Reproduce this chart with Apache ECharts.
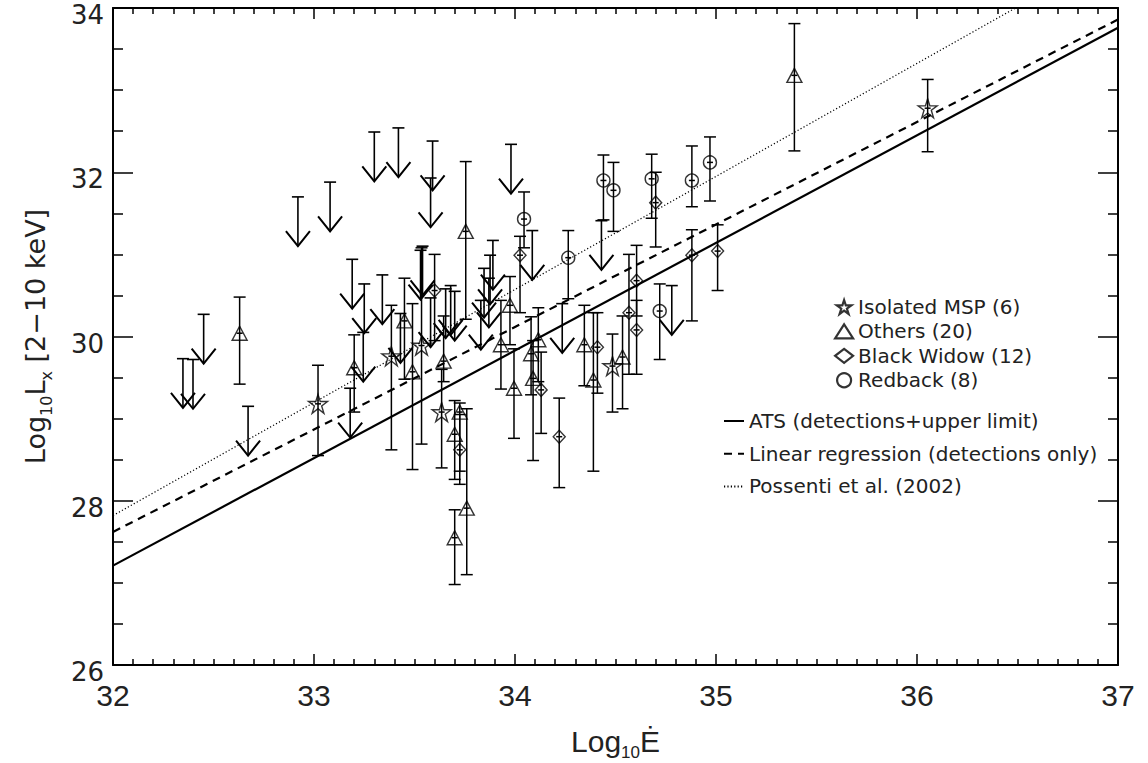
<!DOCTYPE html>
<html>
<head>
<meta charset="utf-8">
<script src="https://cdn.jsdelivr.net/npm/echarts@6/dist/echarts.min.js"></script>
<style>
html,body{margin:0;padding:0;background:#fff;}
#chart{width:1148px;height:763px;}
</style>
</head>
<body>
<div id="chart"></div>
<script>
// ---- data: [logEdot, logLx, lowerErr, upperErr]
var isolatedMSP = [
  [33.02, 29.18, 28.55, 29.65],
  [33.385, 29.76, 28.62, 30.38],
  [33.535, 29.89, 28.69, 31.08],
  [33.635, 29.08, 28.40, 29.60],
  [34.485, 29.64, 29.08, 30.03],
  [36.053, 32.78, 32.25, 33.13]
];
var others = [
  [32.63, 30.04, 29.42, 30.48],
  [33.20, 29.62, 29.08, 30.02],
  [33.45, 30.19, 29.48, 30.71],
  [33.49, 29.57, 28.38, 30.40],
  [33.645, 29.70, 29.45, 30.25],
  [33.70, 28.81, 28.26, 29.22],
  [33.70, 27.55, 26.98, 27.89],
  [33.725, 29.08, 28.36, 29.19],
  [33.76, 27.91, 27.10, 29.12],
  [33.755, 31.28, 30.21, 32.13],
  [33.93, 29.90, 29.36, 30.44],
  [33.975, 30.38, 29.90, 30.73],
  [33.995, 29.37, 28.76, 29.85],
  [34.08, 29.79, 29.29, 30.24],
  [34.09, 29.49, 28.49, 29.95],
  [34.116, 29.96, 29.45, 30.35],
  [34.345, 29.90, 29.40, 30.38],
  [34.39, 29.47, 28.36, 30.29],
  [34.535, 29.75, 29.12, 30.25],
  [35.39, 33.18, 32.26, 33.81]
];
var blackWidow = [
  [33.60, 30.56, 29.95, 31.00],
  [33.725, 28.62, 28.20, 29.05],
  [34.025, 30.99, 30.29, 31.22],
  [34.13, 29.35, 28.82, 29.81],
  [34.22, 28.78, 28.16, 29.25],
  [34.41, 29.87, 29.31, 30.29],
  [34.567, 30.29, 29.54, 31.00],
  [34.605, 30.08, 29.54, 30.44],
  [34.605, 30.68, 30.25, 31.11],
  [34.70, 31.63, 31.09, 32.00],
  [34.88, 30.99, 30.19, 31.30],
  [35.008, 31.04, 30.56, 31.36]
];
var redback = [
  [34.045, 31.43, 31.08, 31.76],
  [34.265, 30.96, 30.46, 31.29],
  [34.44, 31.90, 31.42, 32.21],
  [34.49, 31.78, 31.28, 32.12],
  [34.68, 31.92, 31.44, 32.22],
  [34.72, 30.31, 29.72, 30.64],
  [34.88, 31.90, 31.58, 32.32],
  [34.97, 32.12, 31.65, 32.43]
];
// upper limits: [logEdot, logLx upper limit]
var upperLimits = [
  [32.348, 29.73], [32.398, 29.72], [32.451, 30.27], [32.672, 29.15],
  [32.92, 31.70], [33.08, 31.88], [33.18, 29.37], [33.19, 30.94],
  [33.245, 30.05], [33.25, 30.64], [33.30, 32.49], [33.34, 30.75],
  [33.42, 32.54], [33.43, 30.28], [33.53, 31.05], [33.54, 31.10],
  [33.58, 31.93], [33.58, 30.47], [33.59, 32.38], [33.655, 30.58],
  [33.68, 30.62], [33.70, 30.55], [33.83, 30.44], [33.846, 30.83],
  [33.87, 30.71], [33.876, 30.99], [33.89, 31.17], [33.98, 32.34],
  [34.086, 31.29], [34.235, 30.40], [34.43, 31.41], [34.78, 30.62]
];
var arrowLength = 0.6; // dex
// fitted relations (end points)
var atsLine = [[32, 27.21], [37, 33.76]];
var regressionLine = [[32, 27.62], [37, 33.86]];
var possentiLine = [[32, 27.82], [36.49, 34.0]];
var xTicks = [32, 33, 34, 35, 36, 37];
var yTicks = [26, 28, 30, 32, 34];

var chart = echarts.init(document.getElementById('chart'), null, {renderer: 'svg'});
var starPath = 'path://M50,2 L61,36 L97,36 L68,57 L79,92 L50,70 L21,92 L32,57 L3,36 L39,36 Z';
var hollow = {color: 'rgba(255,255,255,0)', borderColor: '#000', borderWidth: 1.4};
var allDetections = isolatedMSP.concat(others, blackWidow, redback);

function errRender(params, api) {
  var x = api.value(0), y = api.value(1), lo = api.value(2), hi = api.value(3);
  var a = api.coord([x, lo]), b = api.coord([x, hi]), p = api.coord([x, y]);
  var st = {stroke: '#000', lineWidth: 1.5};
  var c = 6;
  return {type: 'group', children: [
    {type: 'line', shape: {x1: a[0], y1: a[1], x2: b[0], y2: b[1]}, style: st},
    {type: 'line', shape: {x1: a[0] - c, y1: a[1], x2: a[0] + c, y2: a[1]}, style: st},
    {type: 'line', shape: {x1: b[0] - c, y1: b[1], x2: b[0] + c, y2: b[1]}, style: st},
    {type: 'line', shape: {x1: p[0] - 3, y1: p[1], x2: p[0] + 3, y2: p[1]}, style: st}
  ]};
}
function ulRender(params, api) {
  var x = api.value(0), y = api.value(1);
  var t = api.coord([x, y]), b = api.coord([x, y - arrowLength]);
  var st = {stroke: '#000', lineWidth: 1.6};
  var st2 = {stroke: '#000', lineWidth: 2};
  return {type: 'group', children: [
    {type: 'line', shape: {x1: t[0], y1: t[1], x2: b[0], y2: b[1]}, style: st},
    {type: 'line', shape: {x1: t[0] - 6, y1: t[1], x2: t[0] + 6, y2: t[1]}, style: st},
    {type: 'polyline', shape: {points: [[b[0] - 12, b[1] - 15], [b[0], b[1]], [b[0] + 12, b[1] - 15]]}, style: Object.assign({fill: 'none'}, st2)}
  ]};
}

var axisCommon = {
  type: 'value',
  splitLine: {show: false},
  minorSplitLine: {show: false},
  axisLine: {show: true, onZero: false, lineStyle: {color: '#000', width: 2}}
};
var xFont = 'Liberation Sans, sans-serif';
var option = {
  animation: false,
  backgroundColor: '#fff',
  grid: {left: 113, right: 30, top: 8, bottom: 98, containLabel: false, outerBoundsMode: 'none'},
  xAxis: [
    Object.assign({}, axisCommon, {
      position: 'bottom', min: xTicks[0], max: xTicks[xTicks.length - 1], interval: 1,
      axisTick: {inside: true, length: 11, lineStyle: {color: '#000', width: 1.5}},
      minorTick: {show: true, splitNumber: 10, length: 6, lineStyle: {color: '#000', width: 1.5}},
      axisLabel: {margin: 15, fontSize: 30, fontFamily: xFont, color: '#222'},
      name: '{a|Log}{s|10}{a|Ė}', nameLocation: 'middle', nameGap: 55,
      nameTextStyle: {rich: {
        a: {fontSize: 30, fontFamily: xFont, color: '#222', lineHeight: 36, verticalAlign: 'bottom'},
        s: {fontSize: 17, fontFamily: xFont, color: '#222', lineHeight: 36, verticalAlign: 'bottom', padding: [0, 0, -5, 0]}
      }}
    }),
    Object.assign({}, axisCommon, {
      position: 'top', min: xTicks[0], max: xTicks[xTicks.length - 1], interval: 1,
      axisTick: {inside: true, length: 11, lineStyle: {color: '#000', width: 1.5}},
      minorTick: {show: true, splitNumber: 10, length: 6, lineStyle: {color: '#000', width: 1.5}},
      axisLabel: {show: false}
    })
  ],
  yAxis: [
    Object.assign({}, axisCommon, {
      position: 'left', min: yTicks[0], max: yTicks[yTicks.length - 1], interval: 2,
      axisTick: {inside: true, length: 20, lineStyle: {color: '#000', width: 1.5}},
      minorTick: {show: true, splitNumber: 4, length: 10, lineStyle: {color: '#000', width: 1.5}},
      axisLabel: {margin: 9, color: '#222',
        formatter: function (v) { return '{v|' + v + '}'; },
        rich: {v: {fontSize: 26, fontFamily: 'DejaVu Sans, sans-serif', color: '#222', lineHeight: 30, padding: [14, 0, 0, 0]}}
      },
      name: '{a|Log}{s|10}{a|L}{s|x}{a| [2−10 keV]}', nameLocation: 'middle', nameGap: 64,
      nameTextStyle: {rich: {
        a: {fontSize: 27, fontFamily: 'DejaVu Sans, sans-serif', color: '#222', lineHeight: 34, verticalAlign: 'bottom'},
        s: {fontSize: 16, fontFamily: 'DejaVu Sans, sans-serif', color: '#222', lineHeight: 34, verticalAlign: 'bottom', padding: [0, 0, -5, 0]}
      }}
    }),
    Object.assign({}, axisCommon, {
      position: 'right', min: yTicks[0], max: yTicks[yTicks.length - 1], interval: 2,
      axisTick: {inside: true, length: 20, lineStyle: {color: '#000', width: 1.5}},
      minorTick: {show: true, splitNumber: 4, length: 10, lineStyle: {color: '#000', width: 1.5}},
      axisLabel: {show: false}
    })
  ],
  legend: [
    {
      data: ['Isolated MSP (6)', 'Others (20)', 'Black Widow (12)', 'Redback (8)'],
      orient: 'vertical', left: 829, top: 291, itemWidth: 18, itemHeight: 14, itemGap: 2.4,
      selectedMode: false,
      itemStyle: {borderWidth: 2.2, borderColor: '#000', color: 'rgba(255,255,255,0)'},
      textStyle: {fontSize: 20, fontFamily: 'DejaVu Sans, sans-serif', color: '#222', lineHeight: 22}
    },
    {
      data: ['ATS (detections+upper limit)', 'Linear regression (detections only)', 'Possenti et al. (2002)'],
      orient: 'vertical', left: 718, top: 405, itemWidth: 20, itemHeight: 14, itemGap: 10.7,
      selectedMode: false,
      itemStyle: {color: 'rgba(0,0,0,0)', borderWidth: 0, opacity: 0},
      textStyle: {fontSize: 20, fontFamily: 'DejaVu Sans, sans-serif', color: '#222', lineHeight: 22}
    }
  ],
  series: [
    {name: 'ATS (detections+upper limit)', type: 'line', data: atsLine, symbol: 'none', silent: true,
     lineStyle: {color: '#000', width: 2.2, type: 'solid'}, itemStyle: {color: '#000'}},
    {name: 'Linear regression (detections only)', type: 'line', data: regressionLine, symbol: 'none', silent: true,
     lineStyle: {color: '#000', width: 2.2, type: [8, 6]}, itemStyle: {color: '#000'}},
    {name: 'Possenti et al. (2002)', type: 'line', data: possentiLine, symbol: 'none', silent: true,
     lineStyle: {color: '#000', width: 1.2, type: [1.2, 2.2]}, itemStyle: {color: '#000'}},
    {name: 'errors', type: 'custom', renderItem: errRender, data: allDetections,
     encode: {x: 0, y: [1, 2, 3]}, silent: true},
    {name: 'upper limits', type: 'custom', renderItem: ulRender, data: upperLimits,
     encode: {x: 0, y: 1}, silent: true},
    {name: 'Isolated MSP (6)', type: 'scatter', data: isolatedMSP, symbol: starPath, symbolSize: 19,
     itemStyle: hollow, silent: true},
    {name: 'Others (20)', type: 'scatter', data: others, symbol: 'triangle', symbolSize: [15, 14],
     itemStyle: hollow, silent: true},
    {name: 'Black Widow (12)', type: 'scatter', data: blackWidow, symbol: 'diamond', symbolSize: [12, 13],
     itemStyle: hollow, silent: true},
    {name: 'Redback (8)', type: 'scatter', data: redback, symbol: 'circle', symbolSize: 13,
     itemStyle: hollow, silent: true}
  ]
};
chart.setOption(option);
</script>
</body>
</html>
